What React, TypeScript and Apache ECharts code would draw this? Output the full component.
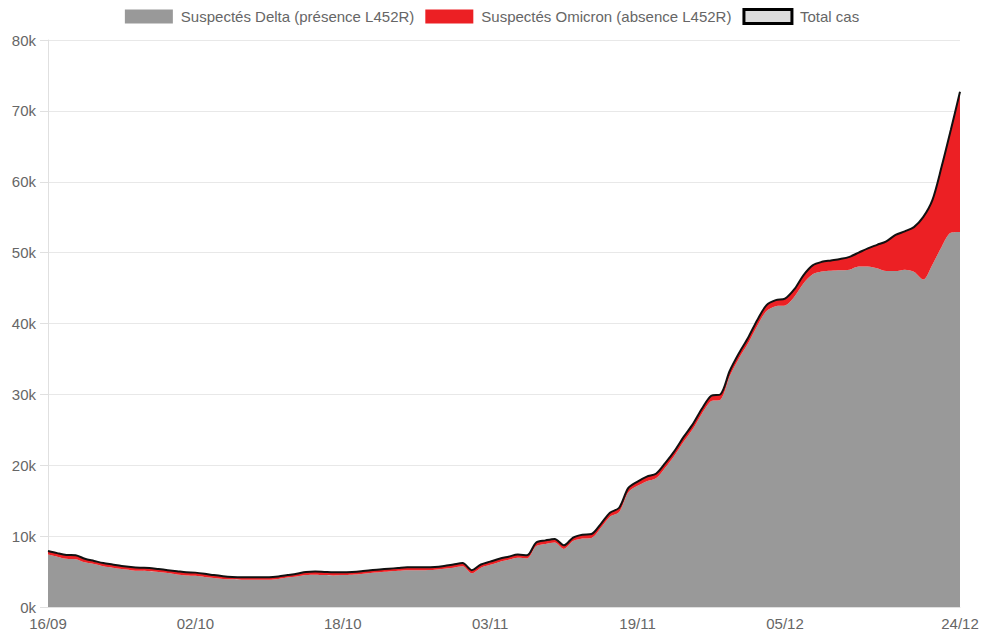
import React, { useEffect, useRef } from "react";
import * as echarts from "echarts";

const dates: string[] = [
  "16/09","17/09","18/09","19/09","20/09","21/09","22/09","23/09","24/09","25/09",
  "26/09","27/09","28/09","29/09","30/09","01/10","02/10","03/10","04/10","05/10",
  "06/10","07/10","08/10","09/10","10/10","11/10","12/10","13/10","14/10","15/10",
  "16/10","17/10","18/10","19/10","20/10","21/10","22/10","23/10","24/10","25/10",
  "26/10","27/10","28/10","29/10","30/10","31/10","01/11","02/11","03/11","04/11",
  "05/11","06/11","07/11","08/11","09/11","10/11","11/11","12/11","13/11","14/11",
  "15/11","16/11","17/11","18/11","19/11","20/11","21/11","22/11","23/11","24/11",
  "25/11","26/11","27/11","28/11","29/11","30/11","01/12","02/12","03/12","04/12",
  "05/12","06/12","07/12","08/12","09/12","10/12","11/12","12/12","13/12","14/12",
  "15/12","16/12","17/12","18/12","19/12","20/12","21/12","22/12","23/12","24/12",
];

const delta: number[] = [
  7400, 7100, 6800, 6750, 6300, 6050, 5750, 5550, 5350, 5200,
  5100, 5050, 4950, 4800, 4600, 4450, 4400, 4250, 4100, 3950,
  3900, 3850, 3850, 3850, 3850, 3950, 4150, 4300, 4500, 4550,
  4500, 4450, 4500, 4550, 4650, 4800, 4900, 5000, 5100, 5200,
  5200, 5200, 5250, 5400, 5550, 5750, 4750, 5550, 5950, 6350,
  6650, 6950, 6850, 8600, 8900, 9100, 8200, 9300, 9650, 9750,
  11150, 12750, 13400, 16200, 17100, 17750, 18150, 19650, 21350, 23300,
  25100, 27300, 29050, 29250, 32550, 35050, 37200, 39700, 41750, 42450,
  42550, 43750, 45650, 46950, 47350, 47450, 47500, 47600, 48050, 48050,
  47800, 47400, 47400, 47600, 47300, 46200, 48300, 50800, 52800, 52900,
];

const omicron: number[] = [
  500, 500, 550, 550, 500, 450, 450, 450, 450, 450,
  450, 450, 400, 400, 450, 450, 450, 450, 400, 400,
  350, 350, 350, 350, 350, 350, 350, 400, 450, 450,
  450, 450, 400, 400, 400, 400, 400, 400, 400, 400,
  400, 400, 400, 400, 450, 450, 450, 450, 450, 450,
  450, 450, 450, 500, 500, 500, 500, 500, 550, 550,
  550, 550, 600, 600, 600, 650, 650, 650, 650, 700,
  700, 700, 750, 750, 750, 750, 800, 800, 850, 850,
  950, 1050, 1150, 1250, 1350, 1450, 1600, 1800, 1950, 2550,
  3300, 4200, 5100, 5400, 6300, 8800, 9100, 11300, 14500, 19800,
];

const total: number[] = delta.map((d, i) => d + omicron[i]);

const yTicks: number[] = [0, 10000, 20000, 30000, 40000, 50000, 60000, 70000, 80000];

const seriesNames = [
  "Suspectés Delta (présence L452R)",
  "Suspectés Omicron (absence L452R)",
  "Total cas",
];

const FONT = "'Liberation Sans', Arial, Helvetica, sans-serif";
const TXT = "#666666";

export default function App() {
  const ref = useRef<HTMLDivElement>(null);
  useEffect(() => {
    if (!ref.current) return;
    const chart = echarts.init(ref.current, undefined, { renderer: "svg" });
    const lastIdx = dates.length - 1;
    chart.setOption({
      animation: false,
      textStyle: { fontFamily: FONT },
      legend: {
        top: 3,
        left: "center",
        itemWidth: 48,
        itemHeight: 14,
        itemGap: 11,
        textStyle: { color: TXT, fontSize: 15, fontFamily: FONT, padding: [0, 0, 0, 3] },
        selectedMode: false,
        data: [
          { name: seriesNames[0], icon: "rect", itemStyle: { color: "#999999" } },
          { name: seriesNames[1], icon: "rect", itemStyle: { color: "#ec2024" } },
          {
            name: seriesNames[2],
            icon: "rect",
            itemStyle: { color: "#dddddd", borderColor: "#000000", borderWidth: 3 },
          },
        ],
      },
      grid: { left: 48, right: 24, top: 40, bottom: 27, containLabel: false },
      xAxis: {
        type: "category",
        data: dates,
        boundaryGap: false,
        axisLine: { show: true, lineStyle: { color: "#e0e0e0" } },
        axisTick: { show: false },
        splitLine: { show: false },
        axisLabel: {
          color: TXT,
          fontSize: 15,
          fontFamily: FONT,
          margin: 9,
          interval: (i: number) => (i % 16 === 0 && i <= 80) || i === lastIdx,
          showMaxLabel: true,
        },
      },
      yAxis: {
        type: "value",
        min: yTicks[0],
        max: yTicks[yTicks.length - 1],
        interval: 10000,
        axisLine: { show: true, lineStyle: { color: "#e0e0e0" } },
        axisTick: { show: true, length: 8, lineStyle: { color: "#e0e0e0" } },
        splitLine: { show: true, lineStyle: { color: "#e8e8e8" } },
        axisLabel: {
          color: TXT,
          fontSize: 15,
          fontFamily: FONT,
          margin: 12,
          formatter: (v: number) => `${Math.round(v / 1000)}k`,
        },
      },
      series: [
        {
          name: seriesNames[0],
          type: "line",
          stack: "cases",
          data: delta,
          smooth: 0.3,
          symbol: "none",
          lineStyle: { width: 0, color: "#999999" },
          itemStyle: { color: "#999999" },
          areaStyle: { color: "#999999", opacity: 1 },
          emphasis: { disabled: true },
          z: 2,
        },
        {
          name: seriesNames[1],
          type: "line",
          stack: "cases",
          data: omicron,
          smooth: 0.3,
          symbol: "none",
          lineStyle: { width: 0, color: "#ec2024" },
          itemStyle: { color: "#ec2024" },
          areaStyle: { color: "#ec2024", opacity: 1 },
          emphasis: { disabled: true },
          z: 2,
        },
        {
          name: seriesNames[2],
          type: "line",
          data: total,
          smooth: 0.3,
          symbol: "none",
          lineStyle: { width: 2, color: "#111111" },
          itemStyle: { color: "#dddddd", borderColor: "#000000", borderWidth: 3 },
          emphasis: { disabled: true },
          z: 3,
        },
      ],
    });
    return () => chart.dispose();
  }, []);
  return (
    <div
      ref={ref}
      style={{ position: "fixed", left: 0, top: 0, width: 984, height: 634, background: "#ffffff" }}
    />
  );
}
